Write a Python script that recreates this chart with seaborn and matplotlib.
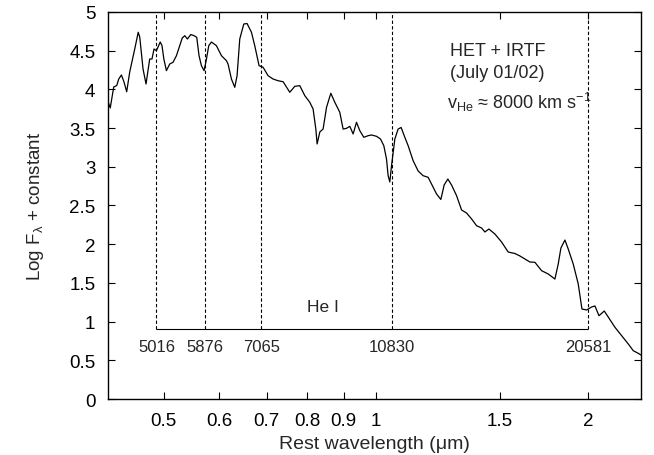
# Spectrum with He I line markers, HET + IRTF
import numpy as np
import pandas as pd
import matplotlib
matplotlib.use("Agg")
import matplotlib.pyplot as plt
import matplotlib.ticker as mticker
import seaborn as sns

sns.set_theme(style="ticks")
plt.rcParams['font.family'] = ['Liberation Sans', 'DejaVu Sans']
plt.rcParams['mathtext.fontset'] = 'custom'
plt.rcParams['mathtext.rm'] = 'Liberation Sans'
plt.rcParams['mathtext.it'] = 'Liberation Sans'

# traced spectrum: rest wavelength (um) and log flux + constant
wavelength = [
    0.4170, 0.4198, 0.4246, 0.4288, 0.4316, 0.4354, 0.4391, 0.4430, 0.4474, 0.4548,
    0.4600, 0.4623, 0.4673, 0.4719, 0.4776, 0.4812, 0.4844, 0.4882, 0.4943, 0.4972,
    0.5002, 0.5044, 0.5099, 0.5154, 0.5212, 0.5269, 0.5312, 0.5356, 0.5403, 0.5462,
    0.5521, 0.5570, 0.5612, 0.5656, 0.5705, 0.5750, 0.5793, 0.5844, 0.5940, 0.6039,
    0.6138, 0.6170, 0.6239, 0.6307, 0.6355, 0.6411, 0.6496, 0.6566, 0.6661, 0.6733,
    0.6829, 0.6919, 0.7033, 0.7149, 0.7267, 0.7387, 0.7550, 0.7675, 0.7801, 0.7930,
    0.8061, 0.8148, 0.8221, 0.8256, 0.8329, 0.8419, 0.8514, 0.8634, 0.8748, 0.8891,
    0.8988, 0.9088, 0.9187, 0.9287, 0.9390, 0.9493, 0.9617, 0.9754, 0.9863, 1.0025,
    1.0157, 1.0267, 1.0358, 1.0413, 1.0471, 1.0529, 1.0644, 1.0759, 1.0865, 1.0997,
    1.1117, 1.1300, 1.1486, 1.1676, 1.1869, 1.2001, 1.2199, 1.2372, 1.2506, 1.2658,
    1.2812, 1.3024, 1.3239, 1.3457, 1.3679, 1.3905, 1.4134, 1.4287, 1.4475, 1.4762,
    1.5089, 1.5418, 1.5760, 1.6020, 1.6284, 1.6553, 1.6826, 1.7198, 1.7573, 1.7963,
    1.8158, 1.8319, 1.8560, 1.8762, 1.9071, 1.9386, 1.9622, 1.9926, 2.0255, 2.0475,
    2.0745, 2.1108, 2.1386, 2.1860, 2.2344, 2.2832, 2.3208, 2.3591, 2.3800,
]
log_flux = [
    3.837, 3.760, 4.031, 4.050, 4.134, 4.186, 4.096, 3.970, 4.225, 4.522,
    4.738, 4.677, 4.264, 4.070, 4.393, 4.393, 4.522, 4.500, 4.612, 4.565,
    4.393, 4.242, 4.328, 4.350, 4.435, 4.565, 4.664, 4.694, 4.651, 4.709,
    4.694, 4.673, 4.435, 4.306, 4.242, 4.393, 4.565, 4.612, 4.565, 4.435,
    4.371, 4.328, 4.134, 4.027, 4.177, 4.651, 4.845, 4.851, 4.738, 4.565,
    4.306, 4.286, 4.177, 4.134, 4.112, 4.099, 3.963, 4.040, 4.048, 3.919,
    3.833, 3.747, 3.488, 3.295, 3.450, 3.488, 3.769, 3.950, 3.833, 3.704,
    3.488, 3.497, 3.523, 3.424, 3.575, 3.466, 3.381, 3.402, 3.411, 3.394,
    3.359, 3.273, 3.101, 2.885, 2.804, 3.014, 3.359, 3.488, 3.508, 3.381,
    3.273, 3.079, 2.946, 2.885, 2.864, 2.778, 2.649, 2.578, 2.765, 2.842,
    2.765, 2.627, 2.442, 2.403, 2.326, 2.239, 2.209, 2.158, 2.196, 2.132,
    2.028, 1.899, 1.880, 1.848, 1.809, 1.770, 1.766, 1.658, 1.615, 1.550,
    1.744, 1.951, 2.054, 1.938, 1.744, 1.486, 1.163, 1.150, 1.189, 1.202,
    1.076, 1.137, 1.059, 0.926, 0.818, 0.711, 0.624, 0.590, 0.568,
]

# He I rest wavelengths (Angstrom), marked at v_He blueshift
hei_lines = [5016, 5876, 7065, 10830, 20581]
hei_labels = ["5016", "5876", "7065", "10830", "20581"]
v_he = 8000.0
c_kms = 299792.458

x_ticks = [0.5, 0.6, 0.7, 0.8, 0.9, 1, 1.5, 2]
x_ticklabels = ["0.5", "0.6", "0.7", "0.8", "0.9", "1", "1.5", "2"]
y_ticks = [0, 0.5, 1, 1.5, 2, 2.5, 3, 3.5, 4, 4.5, 5]
y_ticklabels = ["0", "0.5", "1", "1.5", "2", "2.5", "3", "3.5", "4", "4.5", "5"]

df = pd.DataFrame({"wl": wavelength, "flux": log_flux})
line_pos = [l / 1e4 * (1 - v_he / c_kms) for l in hei_lines]

fig = plt.figure(figsize=(6.54, 4.56), dpi=100)
ax = fig.add_axes([0.1651, 0.1228, 0.815, 0.8487])

sns.lineplot(data=df, x="wl", y="flux", ax=ax, color="black", linewidth=0.9,
             estimator=None, sort=False)

ax.vlines(line_pos, 0.9, 5, colors="black", linewidth=0.8, linestyles=(0, (3, 2)))
ax.hlines(0.9, line_pos[0], line_pos[-1], colors="black", linewidth=0.8)
for xp, lab in zip(line_pos, hei_labels):
    ax.text(xp, 0.68, lab, ha="center", va="center", fontsize=12)
ax.text(0.841, 1.19, "He I", ha="center", va="center", fontsize=12.5)

ax.text(1.49, 4.5, "HET + IRTF", ha="center", va="center", fontsize=13)
ax.text(1.49, 4.22, "(July 01/02)", ha="center", va="center", fontsize=13)
ax.text(1.60, 3.84, r"v$_\mathregular{He}$ ≈ 8000 km s$^\mathregular{-1}$",
        ha="center", va="center", fontsize=13)

ax.set_xscale("log")
ax.set_xlim(0.4167, 2.38)
ax.set_ylim(0, 5)
ax.xaxis.set_major_locator(mticker.FixedLocator(x_ticks))
ax.xaxis.set_minor_locator(mticker.NullLocator())
ax.set_xticklabels(x_ticklabels)
ax.set_yticks(y_ticks)
ax.set_yticklabels(y_ticklabels)

ax.tick_params(direction="in", top=True, right=True, length=5, width=0.8,
               labelsize=13.5, pad=9, colors="black")
for sp in ax.spines.values():
    sp.set_color("black")
    sp.set_linewidth(1.0)

ax.set_xlabel("Rest wavelength (μm)", fontsize=14, labelpad=5)
ax.set_ylabel(r"Log F$_\mathregular{λ}$ + constant", fontsize=13.5, labelpad=17)

plt.savefig("out.png", dpi=100)
plt.close()
